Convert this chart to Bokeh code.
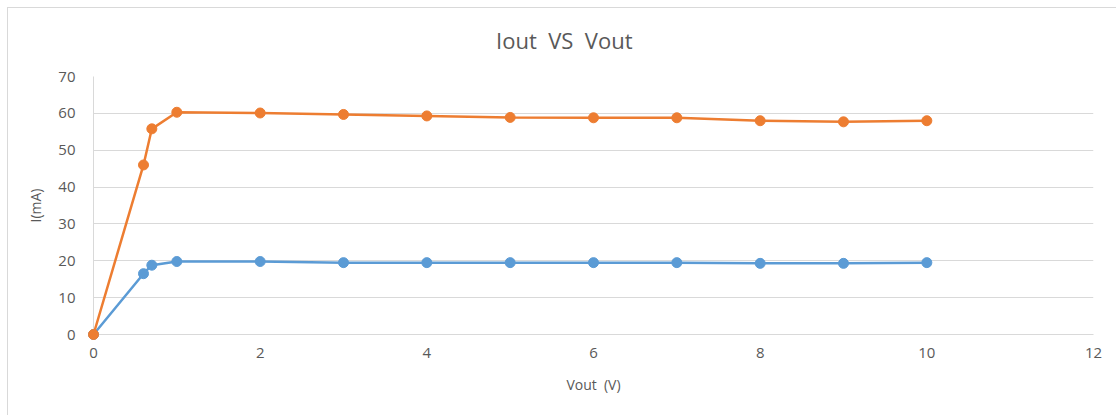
from bokeh.plotting import figure
from bokeh.models import Range1d, FixedTicker
from bokeh.core.properties import value
from bokeh.embed import file_html
from bokeh.resources import INLINE

vout = [0, 0.6, 0.7, 1, 2, 3, 4, 5, 6, 7, 8, 9, 10]
i_high = [0, 46.0, 55.8, 60.3, 60.1, 59.7, 59.3, 58.9, 58.8, 58.8, 58.0, 57.7, 58.0]
i_low = [0, 16.5, 18.8, 19.8, 19.8, 19.5, 19.5, 19.5, 19.5, 19.5, 19.3, 19.3, 19.5]
x_ticks = [0, 2, 4, 6, 8, 10, 12]
y_ticks = [0, 10, 20, 30, 40, 50, 60, 70]

FONT = "Open Sans"
TXT = "#595959"
GRID = "#d9d9d9"
ORANGE = "#ED7D31"
BLUE = "#5B9BD5"
NB = "\u00a0"
TITLE = "Iout" + NB + NB + "VS" + NB + NB + "Vout"
TITLE_X = 5.65
TITLE_Y = 80.0

p = figure(width=1109, height=408, output_backend="svg", toolbar_location=None,
           x_range=Range1d(0, 12), y_range=Range1d(0, 70),
           min_border_left=85, min_border_right=24, min_border_top=68, min_border_bottom=82,
           styles={"border-top": "1px solid #d9d9d9", "border-left": "1px solid #d9d9d9",
                   "margin-left": "7px", "margin-top": "7px"})

p.outline_line_color = None
p.background_fill_color = "white"
p.border_fill_color = "white"

p.xgrid.grid_line_color = None
p.ygrid.grid_line_color = GRID
p.ygrid.grid_line_width = 1
p.ygrid.ticker = FixedTicker(ticks=y_ticks)

p.xaxis.ticker = FixedTicker(ticks=x_ticks)
p.yaxis.ticker = FixedTicker(ticks=y_ticks)
for ax in (p.xaxis[0], p.yaxis[0]):
    ax.axis_line_color = GRID
    ax.major_tick_line_color = None
    ax.minor_tick_line_color = None
    ax.major_label_text_font = FONT
    ax.major_label_text_font_size = "15px"
    ax.major_label_text_color = TXT
    ax.axis_label_text_font = FONT
    ax.axis_label_text_font_size = "14px"
    ax.axis_label_text_font_style = "normal"
    ax.axis_label_text_color = TXT

p.xaxis.axis_label = "Vout" + NB + NB + "(V)"
p.yaxis.axis_label = "I(mA)"
p.xaxis.major_label_standoff = 7
p.yaxis.major_label_standoff = 12
p.xaxis.axis_label_standoff = 14
p.yaxis.axis_label_standoff = 10

p.line(vout, i_low, line_color=BLUE, line_width=2.5, level="overlay")
p.scatter(vout, i_low, size=10, fill_color=BLUE, line_color=BLUE, level="overlay")
p.line(vout, i_high, line_color=ORANGE, line_width=2.5, level="overlay")
p.scatter(vout, i_high, size=10, fill_color=ORANGE, line_color=ORANGE, level="overlay")

p.text(x=[TITLE_X], y=[TITLE_Y], text=[TITLE], text_align="center", text_baseline="middle",
       text_font=value(FONT), text_font_size=value("22px"), text_color=TXT, level="overlay")

open("out.html", "w").write(file_html(p, INLINE))
